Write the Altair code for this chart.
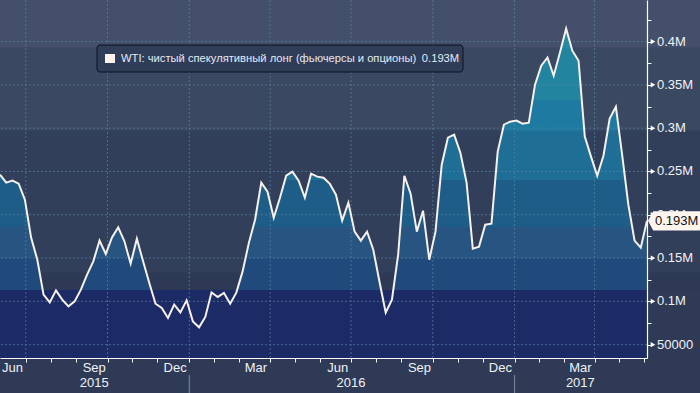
import altair as alt
import pandas as pd

FONT = "Liberation Sans"

# weekly WTI net speculative long, thousands of contracts
WEEK_START = "2015-06-02"
net_long_k = [
    246.3, 237.1, 239.4, 235.9, 217.4, 173.6, 148.1, 107.7, 98.8, 112.7,
    102.0, 94.2, 100.0, 113.5, 130.8, 146.2, 170.1, 154.7, 173.9, 185.4,
    169.3, 143.5, 172.4, 146.2, 121.2, 97.3, 92.4, 80.8, 96.2, 87.3,
    101.2, 76.9, 70.0, 82.0, 110.4, 105.1, 109.7, 97.3, 110.4, 134.6,
    167.4, 194.3, 237.1, 226.7, 196.6, 219.7, 245.1, 249.8, 239.4, 219.7,
    247.5, 244.0, 242.8, 235.9, 223.2, 193.2, 214.0, 180.5, 170.1, 180.5,
    159.7, 122.7, 86.9, 102.0, 153.9, 245.1, 224.4, 180.5, 204.7, 148.1,
    180.5, 257.8, 289.0, 292.5, 271.7, 237.1, 160.8, 163.2, 188.6, 189.7,
    272.9, 304.0, 307.5, 308.7, 305.2, 306.3, 350.2, 372.2, 381.4, 360.6,
    387.2, 414.9, 389.5, 377.9, 290.2, 267.1, 245.1, 268.2, 311.0, 324.8,
    269.4, 211.7, 170.1, 162.0, 193.0,
]
dates = pd.date_range(WEEK_START, periods=len(net_long_k), freq="7D").strftime("%Y-%m-%d")
df = pd.DataFrame({"date": list(dates), "v": [k * 1000 for k in net_long_k]})

YMIN, YMAX = 34600, 448000
X_DOMAIN = [alt.DateTime(year=2015, month=6, date=2, utc=True),
            alt.DateTime(year=2017, month=5, date=30, utc=True)]

series_name = "WTI: чистый спекулятивный лонг (фьючерсы и опционы)"

# axis / grid / label positions (dates)
tick_dates = ["2015-07-01", "2015-07-29", "2015-08-26", "2015-10-01", "2015-10-29", "2015-11-26",
              "2016-01-01", "2016-01-29", "2016-02-26", "2016-04-01", "2016-04-29", "2016-05-27",
              "2016-07-01", "2016-07-29", "2016-08-26", "2016-10-01", "2016-10-29", "2016-11-26",
              "2017-01-01", "2017-01-29", "2017-02-26", "2017-04-01", "2017-04-29", "2017-05-27"]
grid_dates = ["2015-07-01", "2015-10-01", "2016-01-01", "2016-04-01",
              "2016-07-01", "2016-10-01", "2017-01-01", "2017-04-01"]
month_label_dates = ["2015-06-16", "2015-09-16", "2015-12-16", "2016-03-16",
                     "2016-06-16", "2016-09-16", "2016-12-16", "2017-03-16"]
month_labels = ["Jun", "Sep", "Dec", "Mar", "Jun", "Sep", "Dec", "Mar"]
year_label_dates = ["2015-09-16", "2016-07-01", "2017-03-16"]
year_labels = ["2015", "2016", "2017"]
year_sep_dates = ["2016-01-01", "2017-01-01"]
y_grid_values = [50000, 100000, 150000, 200000, 250000, 300000, 350000, 400000]
y_grid_labels = ["50000", "0.1M", "0.15M", "0.2M", "0.25M", "0.3M", "0.35M", "0.4M"]
y_tick_values = [50000 + 25000 * i for i in range(16)]

# colour bands
bg_lo = [YMIN, 113500, 133000, 297000, 393000]
bg_hi = [113500, 133000, 297000, 393000, YMAX]
bg_col = ["#1c2b65", "#2e3a55", "#323f5a", "#3a4862", "#434f6b"]
bg_x2 = [647, 700, 700, 700, 700]

area_bounds = [393000, 333000, 297000, 240000, 186000, 150000, 113500]
area_cols = ["#2589a3", "#22849e", "#1e7aa0", "#1f6e96", "#1f5d89", "#275480", "#1f4a7b", "#1c2b65"]

xs = alt.Scale(type="utc", domain=X_DOMAIN)
ys = alt.Scale(domain=[YMIN, YMAX], nice=False, zero=False)

# gradient for area (bbox from series max down to YMIN)
vmax = max(df["v"])
stops = []
prev = 0.0
for i, col in enumerate(area_cols):
    if i < len(area_bounds):
        off = (vmax - area_bounds[i]) / (vmax - YMIN)
    else:
        off = 1.0
    off = min(max(off, 0.0), 1.0)
    stops.append({"offset": prev, "color": col})
    stops.append({"offset": off, "color": col})
    prev = off
gradient = alt.Gradient(gradient="linear", stops=stops, x1=0, x2=0, y1=0, y2=1)

bg_parts = []
for lo, hi, col, x2 in zip(bg_lo, bg_hi, bg_col, bg_x2):
    bg_parts.append(
        alt.Chart(pd.DataFrame({"lo": [lo], "hi": [hi]})).mark_rect(color=col).encode(
            y=alt.Y("lo:Q", scale=ys, axis=None), y2="hi:Q",
            x=alt.value(0), x2=alt.value(x2))
    )

area = alt.Chart(df).mark_area(color=gradient, interpolate="linear").transform_calculate(
    base=str(YMIN)
).encode(
    x=alt.X("date:T", scale=xs, axis=None),
    y=alt.Y("v:Q", scale=ys, axis=None),
    y2="base:Q",
)

hgrid = alt.Chart(pd.DataFrame({"g": y_grid_values})).mark_rule(
    color="#5b87a8", strokeDash=[2, 2], strokeWidth=1, opacity=0.65
).encode(y=alt.Y("g:Q", scale=ys, axis=None))

vgrid = alt.Chart(pd.DataFrame({"d": grid_dates})).mark_rule(
    color="#5b87a8", strokeDash=[2, 2], strokeWidth=1, opacity=0.65
).encode(x=alt.X("d:T", scale=xs, axis=None))

line = alt.Chart(df).mark_line(color="#f6f1ec", strokeWidth=2, interpolate="linear").encode(
    x=alt.X("date:T", scale=xs, title=None,
            axis=alt.Axis(values=[alt.DateTime(year=int(d[:4]), month=int(d[5:7]), date=int(d[8:]), utc=True)
                                  for d in tick_dates],
                          labels=False, grid=False, tickSize=4, tickColor="#ffffff",
                          domainColor="#ffffff", domainWidth=1.2, zindex=2)),
    y=alt.Y("v:Q", scale=ys, title=None,
            axis=alt.Axis(orient="right", values=y_tick_values, grid=False, tickSize=4,
                          tickColor="#ffffff", domainColor="#ffffff", domainWidth=1.2,
                          labels=False, zindex=2)),
)

tri = alt.Chart(pd.DataFrame({"g": y_grid_values})).mark_point(
    shape="triangle-right", filled=True, color="#ffffff", size=28, opacity=1
).encode(y=alt.Y("g:Q", scale=ys, axis=None), x=alt.value(653))

ylab = alt.Chart(pd.DataFrame({"g": y_grid_values, "t": y_grid_labels})).mark_text(
    align="left", baseline="middle", font=FONT, fontSize=13, color="#eef2f7"
).encode(y=alt.Y("g:Q", scale=ys, axis=None), x=alt.value(657), text="t:N")

last = df.tail(1)
end_box = alt.Chart(last).mark_point(
    shape="M-1,0 L-0.8,-0.37 L1.1,-0.37 L1.1,0.37 L-0.8,0.37 Z",
    filled=True, fill="#fff5ef", opacity=1, size=2704, strokeWidth=0
).encode(y=alt.Y("v:Q", scale=ys, axis=None), x=alt.value(674))
end_txt = alt.Chart(last).mark_text(
    align="left", baseline="middle", font=FONT, fontSize=13, color="#111111"
).transform_calculate(lbl="format(datum.v/1000000, '.3f') + 'M'").encode(
    y=alt.Y("v:Q", scale=ys, axis=None), x=alt.value(655), text="lbl:N")

one = pd.DataFrame({"a": [0]})
leg_box = alt.Chart(one).mark_rect(
    fill="#303d59", stroke="#0c1120", strokeWidth=1, cornerRadius=3
).encode(x=alt.value(97), x2=alt.value(463), y=alt.value(45), y2=alt.value(72))
leg_sq = alt.Chart(one).mark_rect(fill="#fff3ef").encode(
    x=alt.value(105), x2=alt.value(115), y=alt.value(54), y2=alt.value(63))
leg_txt = alt.Chart(last).mark_text(
    align="left", baseline="middle", font=FONT, fontSize=11.2, color="#e4eaf2"
).transform_calculate(
    lbl="'" + series_name + "\u2002' + format(datum.v/1000000, '.3f') + 'M'"
).encode(x=alt.value(121), y=alt.value(58.5), text="lbl:N")

mon = alt.Chart(pd.DataFrame({"d": month_label_dates, "t": month_labels})).mark_text(
    baseline="middle", font=FONT, fontSize=13, color="#eef2f7"
).encode(x=alt.X("d:T", scale=xs, axis=None), y=alt.value(368), text="t:N")
yr = alt.Chart(pd.DataFrame({"d": year_label_dates, "t": year_labels})).mark_text(
    baseline="middle", font=FONT, fontSize=13, color="#eef2f7"
).encode(x=alt.X("d:T", scale=xs, axis=None), y=alt.value(383), text="t:N")
sep = alt.Chart(pd.DataFrame({"d": year_sep_dates})).mark_rule(
    color="#7f8a9e", strokeWidth=1
).encode(x=alt.X("d:T", scale=xs, axis=None), y=alt.value(375), y2=alt.value(393))

chart = alt.layer(
    *bg_parts, area, hgrid, vgrid, line, tri, ylab, end_box, end_txt,
    leg_box, leg_sq, leg_txt, mon, yr, sep
).resolve_axis(x="independent", y="independent").properties(
    width=647, height=358,
    background="#2e3a56",
    padding={"left": 0, "top": 0, "right": 53, "bottom": 35},
    autosize=alt.AutoSizeParams(type="none"),
).configure_view(stroke=None)

chart.save("out.html", embed_options={"renderer": "svg", "actions": False})
